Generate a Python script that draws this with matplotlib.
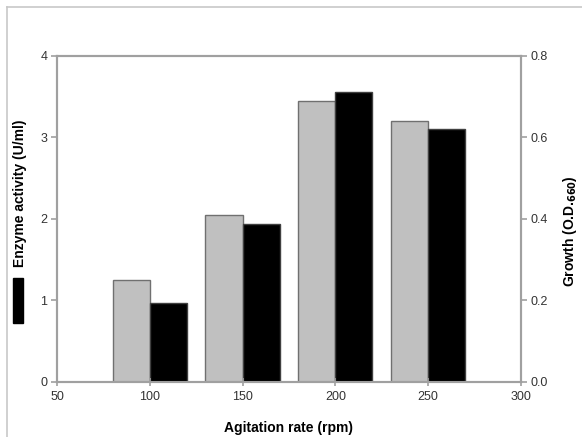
import matplotlib.pyplot as plt
from matplotlib.lines import Line2D
from matplotlib.patches import Rectangle

# -----------------------------
# DATA
# -----------------------------
agitation = [100, 150, 200, 250]
growth = [0.25, 0.41, 0.69, 0.64]          # grey bars, right axis
enzyme = [0.97, 1.93, 3.55, 3.10]          # black bars, left axis

x_ticks = [50, 100, 150, 200, 250, 300]
left_ticks = [0, 1, 2, 3, 4]
right_ticks = [0.0, 0.2, 0.4, 0.6, 0.8]

BAR_W = 20
SPINE = "#a0a0a0"

plt.rcParams["font.family"] = ["Liberation Sans", "DejaVu Sans"]

fig = plt.figure(figsize=(5.82, 4.37), dpi=100)
ax = fig.add_axes([0.098, 0.1265, 0.797, 0.746])
ax2 = ax.twinx()

# grey bars (growth) left of tick, black bars (enzyme) right of tick
ax2.bar(agitation, growth, width=-BAR_W, align="edge",
        color="#c0c0c0", edgecolor="#707070", linewidth=1.0)
ax.bar(agitation, enzyme, width=BAR_W, align="edge",
       color="black", edgecolor="#404040", linewidth=1.0)

# draw twin behind so black bars overlap grey edge
ax.set_zorder(ax2.get_zorder() + 1)
ax.patch.set_visible(False)

ax.set_xlim(50, 300)
ax.set_ylim(0, 4)
ax2.set_ylim(0, 0.8)

ax.set_xticks(x_ticks)
ax.set_yticks(left_ticks)
ax2.set_yticks(right_ticks)
ax2.set_yticklabels(["%.1f" % v for v in right_ticks])

for a in (ax, ax2):
    for s in a.spines.values():
        s.set_color(SPINE)
        s.set_linewidth(1.5)
    a.tick_params(colors=SPINE, labelcolor="#333333", labelsize=9,
                  length=4, width=1.2)
ax.tick_params(axis="x", direction="inout", length=6, pad=4)
ax.tick_params(axis="y", direction="out", pad=3)
ax2.tick_params(axis="y", direction="out", pad=3)

# -----------------------------
# LABELS
# -----------------------------
fig.text(288 / 582, 1 - 428 / 437, "Agitation rate (rpm)",
         ha="center", va="center", fontsize=10, fontweight="bold")
fig.text(20 / 582, 1 - 193 / 437, "Enzyme activity (U/ml)",
         ha="center", va="center", rotation=90, fontsize=10,
         fontweight="bold")
fig.text(570 / 582, 1 - 231 / 437, r"Growth (O.D.$_{\mathbf{660}}$)",
         ha="center", va="center", rotation=90, fontsize=10,
         fontweight="bold")

# black legend square next to the left label
fig.add_artist(Rectangle((13 / 582, 1 - 323 / 437), 10 / 582, 45 / 437,
                         transform=fig.transFigure, color="black"))

# thin outer frame (left and top edges only)
fig.add_artist(Line2D([7 / 582, 7 / 582], [0, 1 - 7 / 437],
                      transform=fig.transFigure, color="#c8c8c8", lw=1.2))
fig.add_artist(Line2D([7 / 582, 1], [1 - 7 / 437, 1 - 7 / 437],
                      transform=fig.transFigure, color="#c8c8c8", lw=1.2))

plt.savefig("out.png", dpi=100)
